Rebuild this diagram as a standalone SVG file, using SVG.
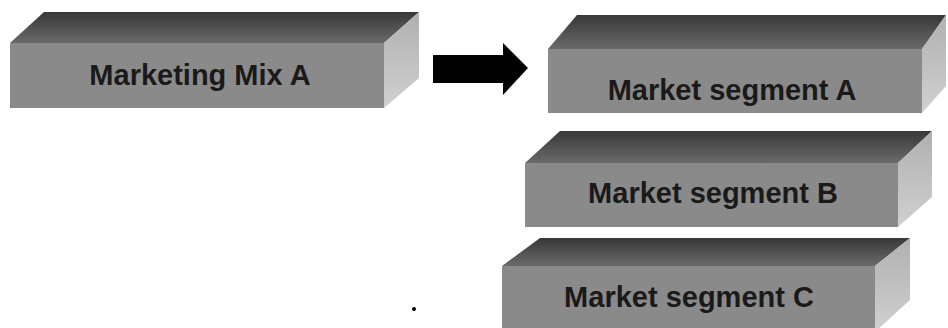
<svg xmlns="http://www.w3.org/2000/svg" width="948" height="328" viewBox="0 0 948 328">
<style>
.top{fill:url(#gTop)}
.front{fill:#8a8a8a}
.side{fill:url(#gSide)}
.lbl{font-family:"Liberation Sans",Arial,sans-serif;font-size:29px;font-weight:bold;fill:#1a1a1a;text-anchor:middle}
</style>
<defs>
<linearGradient id="gTop" x1="0" y1="0" x2="0" y2="1">
<stop offset="0" stop-color="#383838"/>
<stop offset="1" stop-color="#6a6a6a"/>
</linearGradient>
<linearGradient id="gSide" x1="0" y1="0" x2="0" y2="1">
<stop offset="0" stop-color="#b0b0b0"/>
<stop offset="1" stop-color="#d0d0d0"/>
</linearGradient>
</defs>
<rect width="948" height="328" fill="#ffffff"/>
<g id="mix-a">
<polygon class="top" points="10,43 44,12 419,12 384,43"/>
<polygon class="side" points="384,43 419,12 419,78 384,108"/>
<rect class="front" x="10" y="43" width="374" height="65"/>
<text class="lbl" x="200" y="85">Marketing Mix A</text>
</g>
<g id="segment-a">
<polygon class="top" points="548,49 577,15 946,15 922,49"/>
<polygon class="side" points="922,49 946,15 946,86 922,113"/>
<rect class="front" x="548" y="49" width="374" height="64"/>
<text class="lbl" x="732" y="100">Market segment A</text>
</g>
<g id="segment-b">
<polygon class="top" points="525,163 560,131 932,131 898,163"/>
<polygon class="side" points="898,163 932,131 932,197 898,227"/>
<rect class="front" x="525" y="163" width="373" height="64"/>
<text class="lbl" x="713" y="203">Market segment B</text>
</g>
<g id="segment-c">
<polygon class="top" points="502,266 540,238 910,238 875,266"/>
<polygon class="side" points="875,266 910,238 910,300 875,332"/>
<rect class="front" x="502" y="266" width="373" height="66"/>
<text class="lbl" x="689" y="307">Market segment C</text>
</g>
<g id="connectors">
<polygon fill="#000000" points="433,55 503,55 503,43 528,68 503,95 503,83 433,83"/>
</g>
<circle cx="414" cy="309" r="2" fill="#000000"/>
</svg>
